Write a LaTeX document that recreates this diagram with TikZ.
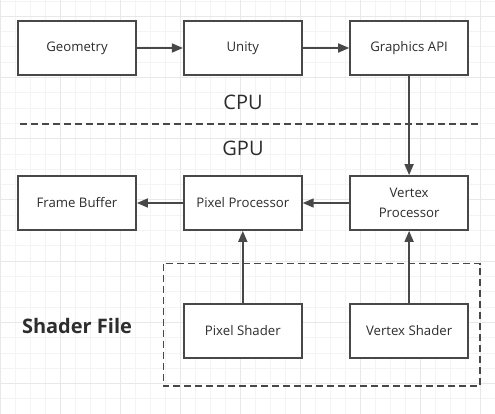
\documentclass[tikz,border=0pt]{standalone}
\usepackage{fontspec}
\setmainfont{Open Sans}
\usetikzlibrary{positioning,arrows.meta}
\definecolor{linegray}{RGB}{72,72,72}
\definecolor{textgray}{RGB}{45,45,45}
\definecolor{gridminor}{RGB}{244,244,244}
\definecolor{gridmajor}{RGB}{232,232,232}
\begin{document}
\begin{tikzpicture}[x=1pt, y=-1pt,
  block/.style={rectangle, draw=linegray, line width=1.8pt, fill=white, minimum width=118pt, minimum height=54pt, align=center, text=textgray, font=\fontsize{13.2}{15}\selectfont},
  flow/.style={draw=linegray, line width=1.7pt, -{Triangle[length=11pt, width=9pt]}},
  divider/.style={draw=linegray, line width=1.7pt, dash pattern=on 7pt off 4pt},
  banner/.style={text=textgray, font=\fontsize{20}{24}\selectfont}]
  \useasboundingbox (0,0) rectangle (495,414);
  % background grid
  \fill[white] (0,0) rectangle (495,414);
  \foreach \gx in {0,15,...,495} \draw[gridminor, line width=0.8pt] (\gx,0) -- (\gx,414);
  \foreach \k in {0,...,27} \draw[gridminor, line width=0.8pt] (0,{1+15.3*\k}) -- (495,{1+15.3*\k});
  \foreach \gx in {0,60,...,480} \draw[gridmajor, line width=0.8pt] (\gx,0) -- (\gx,414);
  \foreach \k in {0,...,6} \draw[gridmajor, line width=0.8pt] (0,{16.3+61.2*\k}) -- (495,{16.3+61.2*\k});

  % CPU side
  \node[block] (geometry) at (77,48) {Geometry};
  \node[block, right=46pt of geometry] (unity) {Unity};
  \node[block, right=46.5pt of unity] (api) {Graphics API};

  \node[banner] (cpu) at (243,102) {CPU};
  \coordinate (splitL) at (20,124);
  \coordinate (splitR) at (480,124);
  \draw[divider] (splitL) -- (splitR);
  \node[banner] (gpu) at (243,148) {GPU};

  % GPU side
  \node[block] (framebuf) at (77,203) {Frame Buffer};
  \node[block, right=46pt of framebuf] (pixelproc) {Pixel Processor};
  \node[block, right=46.5pt of pixelproc, font=\fontsize{13.2}{19.5}\selectfont] (vertexproc) {Vertex\\Processor};

  % shader file
  \coordinate (shaderNW) at (163.5,263.5);
  \coordinate (shaderSE) at (480,386);
  \draw[divider] (shaderNW) rectangle (shaderSE);
  \node[block, below=72pt of pixelproc] (pixelshader) {Pixel Shader};
  \node[block, below=72pt of vertexproc] (vertexshader) {Vertex Shader};
  \node[text=textgray, font=\bfseries\fontsize{20}{24}\selectfont] (shaderfile) at (77,326) {Shader File};

  \draw[flow] (geometry) -- (unity);
  \draw[flow] (unity) -- (api);
  \draw[flow] (api) -- (vertexproc);
  \draw[flow] (vertexproc) -- (pixelproc);
  \draw[flow] (pixelproc) -- (framebuf);
  \draw[flow] (pixelshader) -- (pixelproc);
  \draw[flow] (vertexshader) -- (vertexproc);
\end{tikzpicture}
\end{document}
